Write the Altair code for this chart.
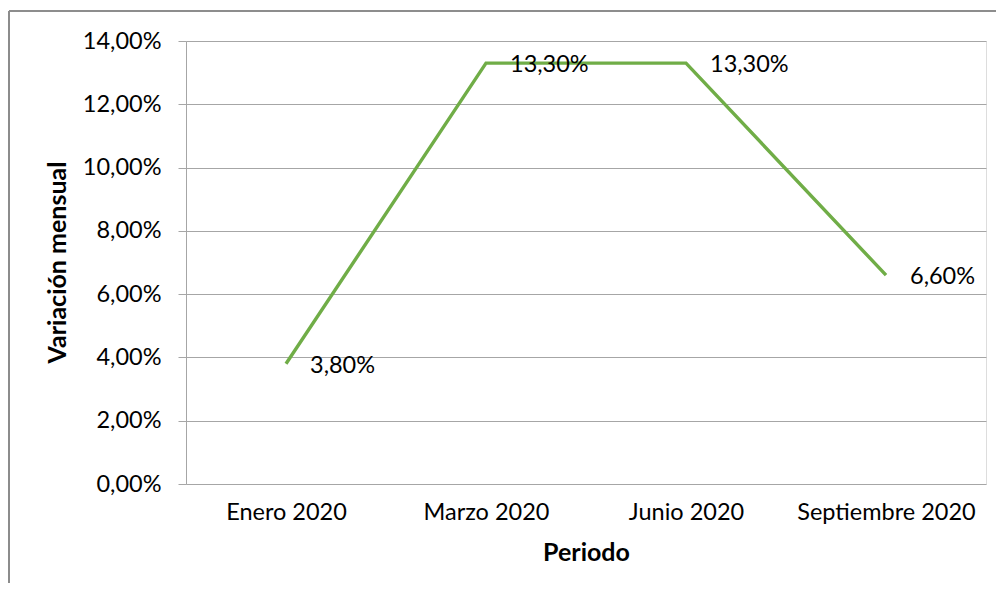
import altair as alt
import pandas as pd

periodos = ["Enero 2020", "Marzo 2020", "Junio 2020", "Septiembre 2020"]
variacion = [3.8, 13.3, 13.3, 6.6]
etiquetas = ["3,80%", "13,30%", "13,30%", "6,60%"]

df = pd.DataFrame({"Periodo": periodos, "Variacion": variacion, "Etiqueta": etiquetas})

FONT = "Lato"
GRID = "#a6a6a6"
LBL = 23.5
TTL = 25

x = alt.X("Periodo:N", sort=periodos, title="Periodo",
          scale=alt.Scale(paddingInner=0, paddingOuter=0, align=0.5),
          axis=alt.Axis(labelAngle=0, ticks=False, domain=False, grid=False,
                        labelFont=FONT, labelFontSize=LBL, labelColor="#000000",
                        labelPadding=16,
                        titleFont=FONT, titleFontSize=TTL, titleFontWeight="bold",
                        titleColor="#000000", titleX=400, titleY=68,
                        titleBaseline="middle", titleAnchor="middle"))
y = alt.Y("Variacion:Q", title="Variación mensual",
          scale=alt.Scale(domain=[0, 14], nice=False),
          axis=alt.Axis(values=[0, 2, 4, 6, 8, 10, 12, 14],
                        labelExpr="replace(format(datum.value, '.2f'), '.', ',') + '%'",
                        labelFont=FONT, labelFontSize=LBL, labelColor="#000000",
                        labelPadding=17, tickSize=8, tickColor=GRID,
                        domainColor=GRID, gridColor=GRID, gridWidth=1,
                        titleFont=FONT, titleFontSize=TTL, titleFontWeight="bold",
                        titleColor="#000000", titleAngle=270, titleX=-129, titleY=221,
                        titleBaseline="middle", titleAnchor="middle"))

line = alt.Chart(df).mark_line(color="#70AD47", strokeWidth=3.4).encode(x=x, y=y)
labels = alt.Chart(df).mark_text(align="left", baseline="middle", dx=24, dy=2,
                                 font=FONT, fontSize=LBL, color="#000000").encode(
    x=alt.X("Periodo:N", sort=periodos), y="Variacion:Q", text="Etiqueta:N")

border = alt.Chart(df).mark_rule(color="#8c8c8c", strokeWidth=1.5, clip=False).encode(
    x=alt.value(-177), x2=alt.value(900), y=alt.value(-30))
border_left = alt.Chart(df).mark_rule(color="#8c8c8c", strokeWidth=2, clip=False).encode(
    x=alt.value(-177), y=alt.value(-30), y2=alt.value(600))

chart = alt.layer(line, labels, border, border_left).properties(
    width=800, height=443,
    padding={"left": 178, "top": 33, "right": 10, "bottom": 99},
    autosize=alt.AutoSizeParams(type="none"),
).configure_view(stroke=None).configure(background="#ffffff")

chart.save("out.html", embed_options={"renderer": "svg", "actions": False})
